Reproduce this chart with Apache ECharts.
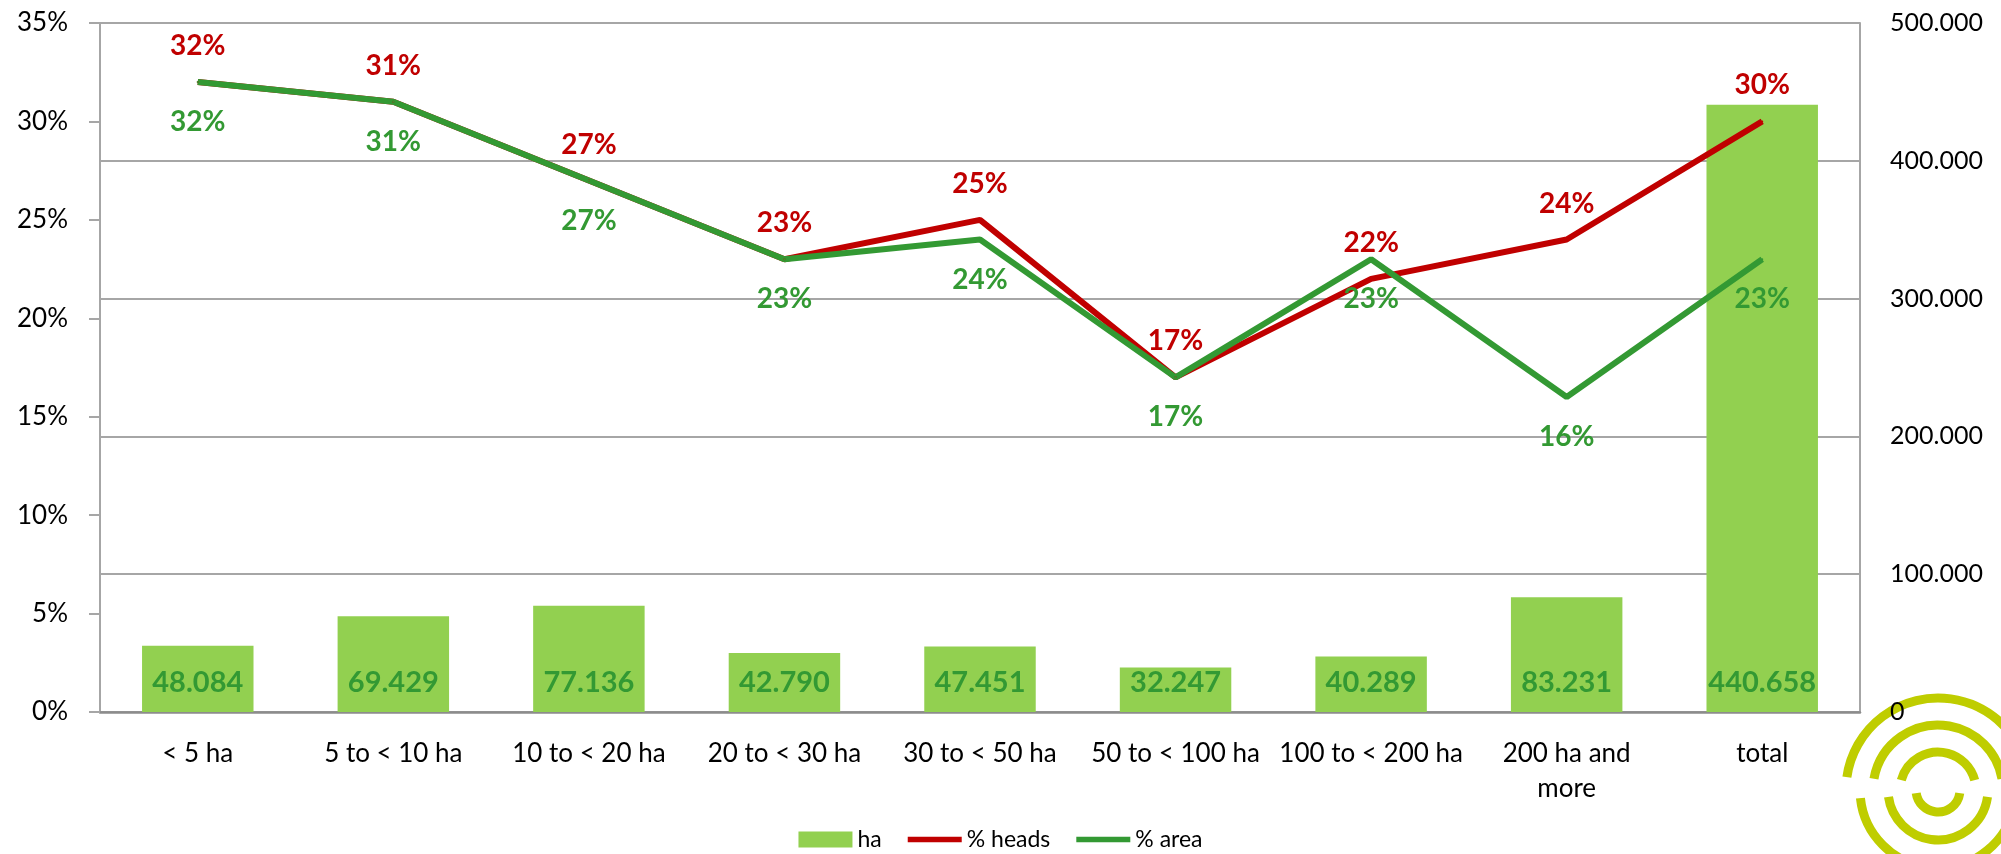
<!DOCTYPE html>
<html>
<head>
<meta charset="utf-8">
<script src="https://cdn.jsdelivr.net/npm/echarts@6/dist/echarts.min.js"></script>
<style>
    html, body { margin: 0; padding: 0; background: #fff; }
    #main { width: 2001px; height: 854px; }
</style>
</head>
<body>
<div id="main"></div>
<script>
var categories = ['< 5 ha', '5 to < 10 ha', '10 to < 20 ha', '20 to < 30 ha', '30 to < 50 ha',
    '50 to < 100 ha', '100 to < 200 ha', '200 ha and\nmore', 'total'];
var haValues = [48084, 69429, 77136, 42790, 47451, 32247, 40289, 83231, 440658];
var headsPct = [32, 31, 27, 23, 25, 17, 22, 24, 30];
var areaPct = [32, 31, 27, 23, 24, 17, 23, 16, 23];

var FONT = 'Lato';
var RED = '#c00000';
var GREEN = '#339933';
var LOGO = '#bfcd00';
var LINE_ICON = 'path://M0,0h100v10h-100z';

// 48084 -> "48.084"
function dotThousands(v) {
    return String(Math.round(v)).replace(/\B(?=(\d{3})+(?!\d))/g, '.');
}

// logo arcs (decoration, bottom right)
var logoCx = 1938, logoCy = 790;
var logoArcs = [
    {r: 92, s: 188, e: 352},
    {r: 65, s: 190, e: 350},
    {r: 38, s: 195, e: 345},
    {r: 22, s: 8, e: 172},
    {r: 50, s: 8, e: 172},
    {r: 78, s: 6, e: 174}
];
var graphics = logoArcs.map(function (a) {
    return {
        type: 'arc',
        z: -10,
        silent: true,
        shape: {cx: logoCx, cy: logoCy, r: a.r, startAngle: a.s * Math.PI / 180, endAngle: a.e * Math.PI / 180},
        style: {stroke: LOGO, lineWidth: 9, fill: null}
    };
});

var myChart = echarts.init(document.getElementById('main'));
var option = {
    animation: false,
    backgroundColor: '#ffffff',
    textStyle: {fontFamily: FONT},
    graphic: graphics,
    grid: {left: 100, right: 141, top: 23, bottom: 142},
    legend: {
        bottom: -2,
        left: 'center',
        itemWidth: 54,
        itemHeight: 16,
        itemGap: 26,
        textStyle: {fontFamily: FONT, fontSize: 23, color: '#000'},
        data: [
            {name: 'ha', icon: 'rect'},
            {name: '% heads', icon: LINE_ICON},
            {name: '% area', icon: LINE_ICON}
        ]
    },
    xAxis: {
        type: 'category',
        data: categories,
        axisLine: {lineStyle: {color: '#8c8c8c', width: 2.5}},
        axisTick: {show: false},
        axisLabel: {fontFamily: FONT, fontSize: 26, color: '#000', margin: 24, lineHeight: 35, interval: 0}
    },
    yAxis: [
        {
            type: 'value',
            min: 0, max: 35, interval: 5,
            axisLine: {show: true, lineStyle: {color: '#a6a6a6', width: 2}},
            axisTick: {show: true, length: 11, lineStyle: {color: '#a6a6a6', width: 2}},
            splitLine: {show: false},
            axisLabel: {fontFamily: FONT, fontSize: 26, color: '#000', margin: 32, formatter: '{value}%'}
        },
        {
            type: 'value',
            min: 0, max: 500000, interval: 100000,
            position: 'right',
            axisLine: {show: true, lineStyle: {color: '#a6a6a6', width: 2}},
            axisTick: {show: false},
            splitLine: {show: true, lineStyle: {color: '#a6a6a6', width: 2}},
            axisLabel: {fontFamily: FONT, fontSize: 25, color: '#000', margin: 30,
                formatter: function (v) { return dotThousands(v); }}
        }
    ],
    series: [
        {
            name: 'ha',
            type: 'bar',
            yAxisIndex: 1,
            barWidth: '57%',
            itemStyle: {color: '#92d050'},
            label: {
                show: true, position: 'insideBottom', distance: 15,
                fontFamily: FONT, fontSize: 29, fontWeight: 'bold', color: GREEN,
                formatter: function (p) { return dotThousands(p.value); }
            },
            data: haValues
        },
        {
            name: '% heads',
            type: 'line',
            yAxisIndex: 0,
            symbol: 'circle',
            symbolSize: 2,
            lineStyle: {color: RED, width: 6},
            itemStyle: {color: RED},
            label: {
                show: true, position: 'top', distance: 21,
                fontFamily: FONT, fontSize: 28, fontWeight: 'bold', color: RED,
                formatter: '{c}%'
            },
            data: headsPct
        },
        {
            name: '% area',
            type: 'line',
            yAxisIndex: 0,
            symbol: 'circle',
            symbolSize: 2,
            lineStyle: {color: GREEN, width: 6},
            itemStyle: {color: GREEN},
            label: {
                show: true, position: 'bottom', distance: 25,
                fontFamily: FONT, fontSize: 28, fontWeight: 'bold', color: GREEN,
                formatter: '{c}%'
            },
            data: areaPct
        }
    ]
};
window.onresize = function () {
    myChart.resize();
};
myChart.setOption(option);
</script>
</body>
</html>
